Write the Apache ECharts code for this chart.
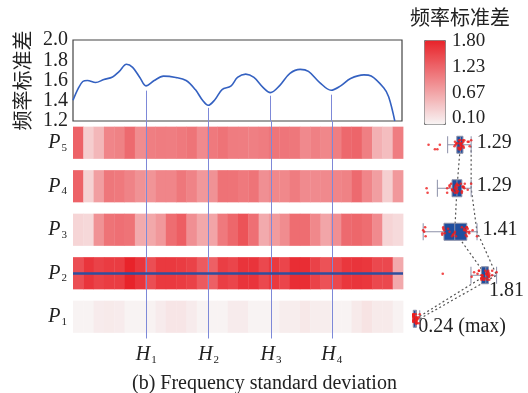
<!DOCTYPE html>
<html>
<head>
<meta charset="utf-8">
<script src="https://cdn.jsdelivr.net/npm/echarts@6/dist/echarts.min.js"></script>
<style>
  html, body { margin: 0; padding: 0; background: #fff; }
  #chart { width: 528px; height: 393px; }
</style>
</head>
<body>
<div id="chart"></div>
<script>
// Row names, bottom to top
const rowNames = ['P1', 'P2', 'P3', 'P4', 'P5'];

// Frequency standard deviation per column (32 columns) for each row
const rowP1 = [0.11, 0.11, 0.17, 0.18, 0.17, 0.11, 0.11, 0.12, 0.17, 0.22, 0.22, 0.17, 0.11, 0.11, 0.11, 0.17,
               0.17, 0.11, 0.11, 0.11, 0.16, 0.16, 0.20, 0.16, 0.16, 0.11, 0.11, 0.18, 0.24, 0.18, 0.18, 0.12];
const rowP2 = [1.45, 1.65, 1.55, 1.60, 1.60, 1.81, 1.65, 1.45, 1.62, 1.62, 1.60, 1.55, 1.35, 1.30, 1.58, 1.52,
               1.66, 1.66, 1.50, 1.62, 1.52, 1.72, 1.72, 1.55, 1.42, 1.50, 1.64, 1.66, 1.64, 1.50, 1.50, 0.71];
const rowP3 = [0.35, 0.33, 0.90, 1.15, 1.18, 1.15, 0.70, 0.72, 0.85, 1.20, 1.32, 0.92, 0.72, 0.75, 1.10, 1.25,
               1.41, 1.18, 0.70, 0.82, 0.95, 1.20, 1.20, 0.98, 0.74, 0.92, 1.22, 1.25, 1.20, 0.96, 0.36, 0.31];
const rowP4 = [1.29, 0.38, 0.80, 1.12, 1.10, 1.02, 0.90, 0.88, 1.00, 1.00, 1.12, 1.02, 0.85, 0.90, 1.16, 1.15,
               1.10, 1.14, 0.92, 0.98, 0.98, 1.08, 0.96, 0.96, 0.97, 1.00, 1.03, 1.22, 1.00, 0.80, 0.40, 0.85];
const rowP5 = [1.29, 0.42, 0.60, 1.00, 1.03, 1.22, 0.95, 1.06, 1.08, 1.07, 1.10, 1.14, 0.96, 1.10, 1.15, 1.08,
               1.07, 1.05, 1.08, 1.13, 1.13, 1.12, 0.97, 1.04, 0.99, 1.06, 1.24, 1.26, 1.05, 0.65, 0.55, 1.07];
const rows = [rowP1, rowP2, rowP3, rowP4, rowP5];

// Mean frequency standard deviation curve (column position, value)
const curveX = [0, 0.5, 0.95, 1.4, 2.2, 3.0, 3.85, 4.5, 5.2, 5.8, 6.5, 7.1, 7.9, 8.8, 10.0, 11.0, 11.9, 12.6,
                13.15, 13.8, 14.5, 15.35, 16.0, 16.8, 17.6, 18.5, 19.2, 20.1, 21.1, 22.1, 22.9, 24.0, 25.1, 26.0,
                27.0, 28.3, 29.0, 30.2, 30.7, 31.3];
const curveY = [1.405, 1.52, 1.59, 1.60, 1.58, 1.61, 1.635, 1.69, 1.76, 1.73, 1.63, 1.547, 1.60, 1.643, 1.63, 1.60,
                1.51, 1.405, 1.355, 1.41, 1.51, 1.544, 1.63, 1.663, 1.63, 1.53, 1.48, 1.55, 1.67, 1.71, 1.69, 1.58,
                1.504, 1.545, 1.62, 1.656, 1.645, 1.53, 1.44, 1.2];

// Marked positions H1..H4 and where their guide lines start on the curve panel
const hNames = ['1', '2', '3', '4'];
const hPos = [7.1, 13.15, 19.2, 25.1];
const hTop = [1.50, 1.33, 1.45, 1.46];

// Axis ticks
const curveTicks = { min: 1.2, max: 2.0, step: 0.2 };
const colorTicks = [0.10, 0.67, 1.23, 1.80];
const colorRange = [0.10, 1.80];

const SERIF = 'Liberation Serif';
const CJK = 'Noto Sans CJK SC';
const INK = '#222';

const richSub = {
  i: { fontFamily: SERIF, fontStyle: 'italic', fontSize: 20, color: INK },
  s: { fontFamily: SERIF, fontSize: 11, color: INK, padding: [10, 0, 0, 1] }
};

// Heatmap cells
const cells = [];
rows.forEach((row, r) => row.forEach((v, c) => cells.push([c, r, v])));

// Jittered sample points for the box panel
const dots = [];
rows.forEach((row, r) => row.forEach((v, j) => {
  dots.push({ value: [v, r], symbolOffset: [0, (((j * 3) % 7) - 3) * 1.5] });
}));

function median(a) {
  const s = a.slice().sort((x, y) => x - y);
  const m = s.length / 2;
  return s.length % 2 ? s[Math.floor(m)] : (s[m - 1] + s[m]) / 2;
}
const medians = rows.map((row, r) => [median(row), r]);
const maxes = rows.map(row => Math.max.apply(null, row));

const maxLabelStyle = [
  { position: 'right', offset: [-7, 8], formatter: p => p.value[0].toFixed(2) + ' (max)' },
  { position: 'bottom', offset: [10, 0] },
  { position: 'right', offset: [0, -2] },
  { position: 'right', offset: [0, -3] },
  { position: 'right', offset: [0, -2] }
];

const chart = echarts.init(document.getElementById('chart'), null, { renderer: 'canvas' });

chart.setOption({
  animation: false,
  backgroundColor: '#fff',
  title: [
    { text: '频率标准差', left: 405, top: 2,
      textStyle: { fontFamily: CJK, fontSize: 20, fontWeight: 'normal', color: INK } },
    { text: '(b) Frequency standard deviation', left: 127, top: 369,
      textStyle: { fontFamily: SERIF, fontSize: 20, fontWeight: 'normal', color: INK } }
  ],
  dataset: [
    { source: rows },
    { fromDatasetIndex: 0, transform: { type: 'boxplot', config: { itemNameFormatter: p => rowNames[p.value] } } }
  ],
  grid: [
    { left: 73, top: 40, width: 329, height: 81, show: true, borderColor: '#444', borderWidth: 1.2 },
    { left: 73, top: 121, width: 330, height: 217.5 },
    { left: 408, top: 123, width: 93, height: 217.5 },
    { left: 446, top: 41.5, width: 1, height: 77 }
  ],
  xAxis: [
    { gridIndex: 0, type: 'value', min: 0, max: 32, show: false },
    { gridIndex: 1, type: 'value', min: 0, max: 32, show: false },
    { gridIndex: 2, type: 'value', min: 0, max: 1.9, show: false },
    { gridIndex: 3, type: 'value', show: false }
  ],
  yAxis: [
    {
      gridIndex: 0, type: 'value', min: curveTicks.min, max: curveTicks.max, interval: curveTicks.step,
      axisLine: { show: false }, axisTick: { show: false }, splitLine: { show: false },
      axisLabel: { fontFamily: SERIF, fontSize: 20, color: INK, margin: 5, formatter: v => v.toFixed(1) },
      name: '频率标准差', nameLocation: 'middle', nameRotate: 90, nameGap: 38,
      nameTextStyle: { fontFamily: CJK, fontSize: 20, color: INK }
    },
    {
      gridIndex: 1, type: 'category', data: rowNames,
      axisLine: { show: false }, axisTick: { show: false }, splitLine: { show: false },
      axisLabel: {
        margin: 6,
        formatter: v => '{i|P}{s|' + v.slice(1) + '}',
        rich: richSub
      }
    },
    { gridIndex: 2, type: 'category', data: rowNames, show: false },
    {
      gridIndex: 3, type: 'value', position: 'right', min: colorRange[0], max: colorRange[1],
      axisLine: { show: false }, axisTick: { show: false }, splitLine: { show: false },
      axisLabel: { customValues: colorTicks, fontFamily: SERIF, fontSize: 19, color: INK, margin: 5,
                   formatter: v => v.toFixed(2) }
    }
  ],
  visualMap: {
    type: 'continuous', seriesIndex: 1, dimension: 2,
    min: colorRange[0], max: colorRange[1],
    left: 424, top: 40, itemWidth: 21, itemHeight: 84,
    calculable: false, hoverLink: false, text: null,
    padding: 0, borderColor: '#777', borderWidth: 1,
    inRange: { color: ['#f8f4f4', '#e8232a'] }
  },
  series: [
    {
      type: 'line', xAxisIndex: 0, yAxisIndex: 0,
      data: curveX.map((x, i) => [x, curveY[i]]),
      smooth: 0.35, showSymbol: false, symbol: 'none',
      lineStyle: { color: '#3461c1', width: 1.6 },
      markLine: {
        silent: true, symbol: ['none', 'none'], label: { show: false },
        lineStyle: { color: '#7d89d8', width: 1, type: 'solid' },
        data: hPos.map((x, i) => [{ coord: [x, hTop[i]] }, { coord: [x, curveTicks.min] }])
      }
    },
    {
      type: 'custom', xAxisIndex: 1, yAxisIndex: 1,
      data: cells, encode: { x: 0, y: 1 },
      renderItem: (params, api) => {
        const c = api.coord([api.value(0), api.value(1)]);
        const s = api.size([1, 1]);
        const h = s[1] * 0.74;
        return {
          type: 'rect',
          shape: { x: c[0], y: c[1] - h / 2, width: s[0] + 0.4, height: h },
          style: { fill: api.visual('color') }
        };
      }
    },
    {
      type: 'line', xAxisIndex: 1, yAxisIndex: 1, z: 5,
      data: [], symbol: 'none',
      markLine: {
        silent: true, symbol: ['none', 'none'],
        data: hPos.map((x, i) => ({
          xAxis: x,
          lineStyle: { color: '#7d89d8', width: 1, type: 'solid' },
          label: { show: true, position: 'start', distance: 6,
                   formatter: '{i|H}{s|' + hNames[i] + '}', rich: richSub }
        })).concat([{
          yAxis: 'P2',
          lineStyle: { color: '#2e4f9f', width: 2.5, type: 'solid' },
          label: { show: false }
        }])
      }
    },
    {
      type: 'boxplot', datasetIndex: 1, xAxisIndex: 2, yAxisIndex: 2, z: 3,
      boxWidth: [17, 17],
      itemStyle: { color: '#1f4e9f', borderColor: '#8c90a8', borderWidth: 1 }
    },
    {
      type: 'scatter', xAxisIndex: 2, yAxisIndex: 2, z: 4,
      data: dots, symbol: 'circle', symbolSize: 2.6,
      itemStyle: { color: '#ee1d1d' }
    },
    {
      type: 'line', xAxisIndex: 2, yAxisIndex: 2, z: 1,
      data: medians, symbol: 'none',
      lineStyle: { color: '#555', width: 1.2, type: [2, 2.5] }
    },
    {
      type: 'line', xAxisIndex: 2, yAxisIndex: 2, z: 1,
      data: maxes.map((m, r) => ({
        value: [m, r],
        label: Object.assign({ show: true, fontFamily: SERIF, fontSize: 20, color: INK, distance: 5,
                               formatter: p => p.value[0].toFixed(2) }, maxLabelStyle[r])
      })),
      symbol: 'circle', symbolSize: 1, showSymbol: true,
      itemStyle: { color: 'rgba(0,0,0,0)' },
      lineStyle: { color: '#555', width: 1.2, type: [2, 2.5] }
    }
  ]
});
</script>
</body>
</html>
